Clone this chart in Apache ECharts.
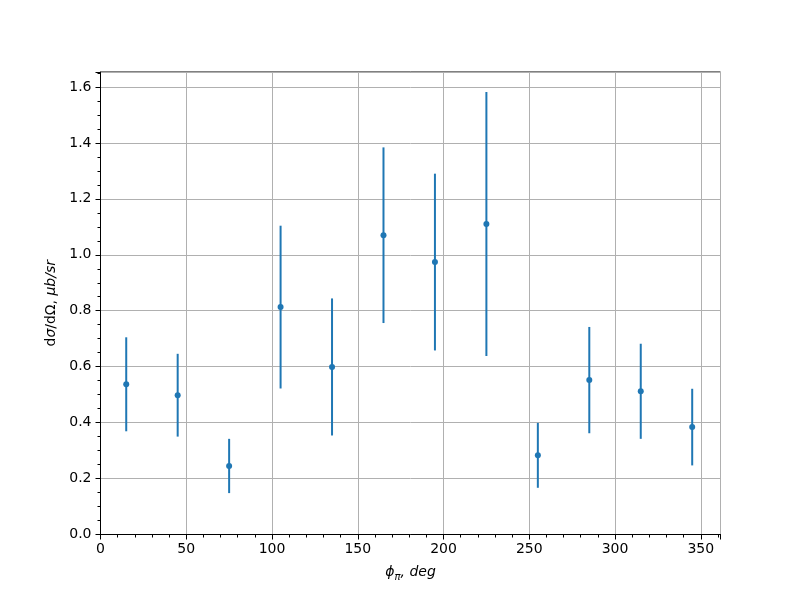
<!DOCTYPE html>
<html>
<head>
<meta charset="utf-8">
<script src="https://cdn.jsdelivr.net/npm/echarts@6/dist/echarts.min.js"></script>
<style>html,body{margin:0;padding:0;background:#fff}#c{width:800px;height:600px}</style>
</head>
<body>
<div id="c"></div>
<script>
var phi = [15, 45, 75, 105, 135, 165, 195, 225, 255, 285, 315, 345];
var xsec = [0.537, 0.498, 0.245, 0.813, 0.599, 1.070, 0.974, 1.110, 0.283, 0.552, 0.512, 0.384];
var xsecErr = [0.168, 0.148, 0.097, 0.291, 0.245, 0.314, 0.316, 0.472, 0.116, 0.190, 0.170, 0.137];
var xMin = 0, xMax = 361.5, xStep = 50, xMinor = 10;
var yMin = 0, yMax = 1.6535, yStep = 0.2, yMinor = 0.05;

var C = '#1f77b4';
var FONT = 'DejaVu Sans';
function isMult(v, s) { var q = v / s; return Math.abs(q - Math.round(q)) < 1e-6; }

var chart = echarts.init(document.getElementById('c'), null, {renderer: 'canvas'});
var errData = phi.map(function (x, i) { return [x, xsec[i] - xsecErr[i], xsec[i] + xsecErr[i]]; });
var ptData = phi.map(function (x, i) { return [x, xsec[i]]; });

chart.setOption({
  animation: false,
  backgroundColor: '#fff',
  grid: {left: 100.5, right: 79.5, top: 72, height: 462.5, show: true, borderColor: '#000', borderWidth: 1, backgroundColor: 'transparent'},
  xAxis: [{
    type: 'value', min: xMin, max: xMax, interval: xStep,
    position: 'bottom',
    name: '{i|ϕ}{s|π}{i|, deg}', nameLocation: 'middle', nameGap: 27,
    nameTextStyle: {rich: {
      i: {fontFamily: FONT, fontStyle: 'italic', fontSize: 14, color: '#000', verticalAlign: 'bottom', lineHeight: 18},
      s: {fontFamily: FONT, fontStyle: 'italic', fontSize: 10, color: '#000', verticalAlign: 'bottom', lineHeight: 12, padding: [0,0,-3,0]}
    }},
    axisLine: {show: true, lineStyle: {color: '#000', width: 1}},
    axisTick: {show: true, inside: false, length: 5, lineStyle: {color: '#000', width: 1}},
    axisLabel: {margin: 8, fontFamily: FONT, fontSize: 14, color: '#000',
      formatter: function (v) { return isMult(v, xStep) ? String(v) : ''; }},
    splitLine: {show: true, lineStyle: {color: '#b0b0b0', width: 1}}
  }, {
    type: 'value', min: xMin, max: xMax, interval: xMinor,
    position: 'bottom', offset: 0,
    axisLine: {show: false},
    axisTick: {show: true, inside: false, length: 3, lineStyle: {color: '#000', width: 1}},
    axisLabel: {show: false},
    splitLine: {show: false}
  }],
  yAxis: [{
    type: 'value', min: yMin, max: yMax, interval: yStep,
    position: 'left',
    name: 'd{i|σ}/dΩ, {i|μb/sr}', nameLocation: 'middle', nameGap: 39,
    nameTextStyle: {fontFamily: FONT, fontSize: 14, color: '#000',
      rich: {i: {fontFamily: FONT, fontStyle: 'italic', fontSize: 14, color: '#000'}}},
    axisLine: {show: true, lineStyle: {color: '#000', width: 1}},
    axisTick: {show: true, inside: false, length: 5, lineStyle: {color: '#000', width: 1}},
    axisLabel: {margin: 9, fontFamily: FONT, fontSize: 14, color: '#000',
      formatter: function (v) { return isMult(v, yStep) && v < yMax - 0.01 ? v.toFixed(1) : ''; }},
    splitLine: {show: true, lineStyle: {color: '#b0b0b0', width: 1}}
  }, {
    type: 'value', min: yMin, max: yMax, interval: yMinor,
    position: 'left', offset: 0,
    axisLine: {show: false},
    axisTick: {show: true, inside: false, length: 3, lineStyle: {color: '#000', width: 1}},
    axisLabel: {show: false},
    splitLine: {show: false}
  }],
  series: [{
    type: 'custom',
    xAxisIndex: 0, yAxisIndex: 0,
    silent: true,
    data: errData,
    renderItem: function (params, api) {
      var lo = api.coord([api.value(0), api.value(1)]);
      var hi = api.coord([api.value(0), api.value(2)]);
      return {type: 'line', shape: {x1: lo[0], y1: lo[1], x2: hi[0], y2: hi[1]},
        style: {stroke: C, lineWidth: 2}};
    },
    z: 2
  }, {
    type: 'scatter',
    xAxisIndex: 0, yAxisIndex: 0,
    silent: true,
    data: ptData,
    symbol: 'circle', symbolSize: 6,
    itemStyle: {color: C, opacity: 1},
    z: 3
  }]
});
</script>
</body>
</html>
